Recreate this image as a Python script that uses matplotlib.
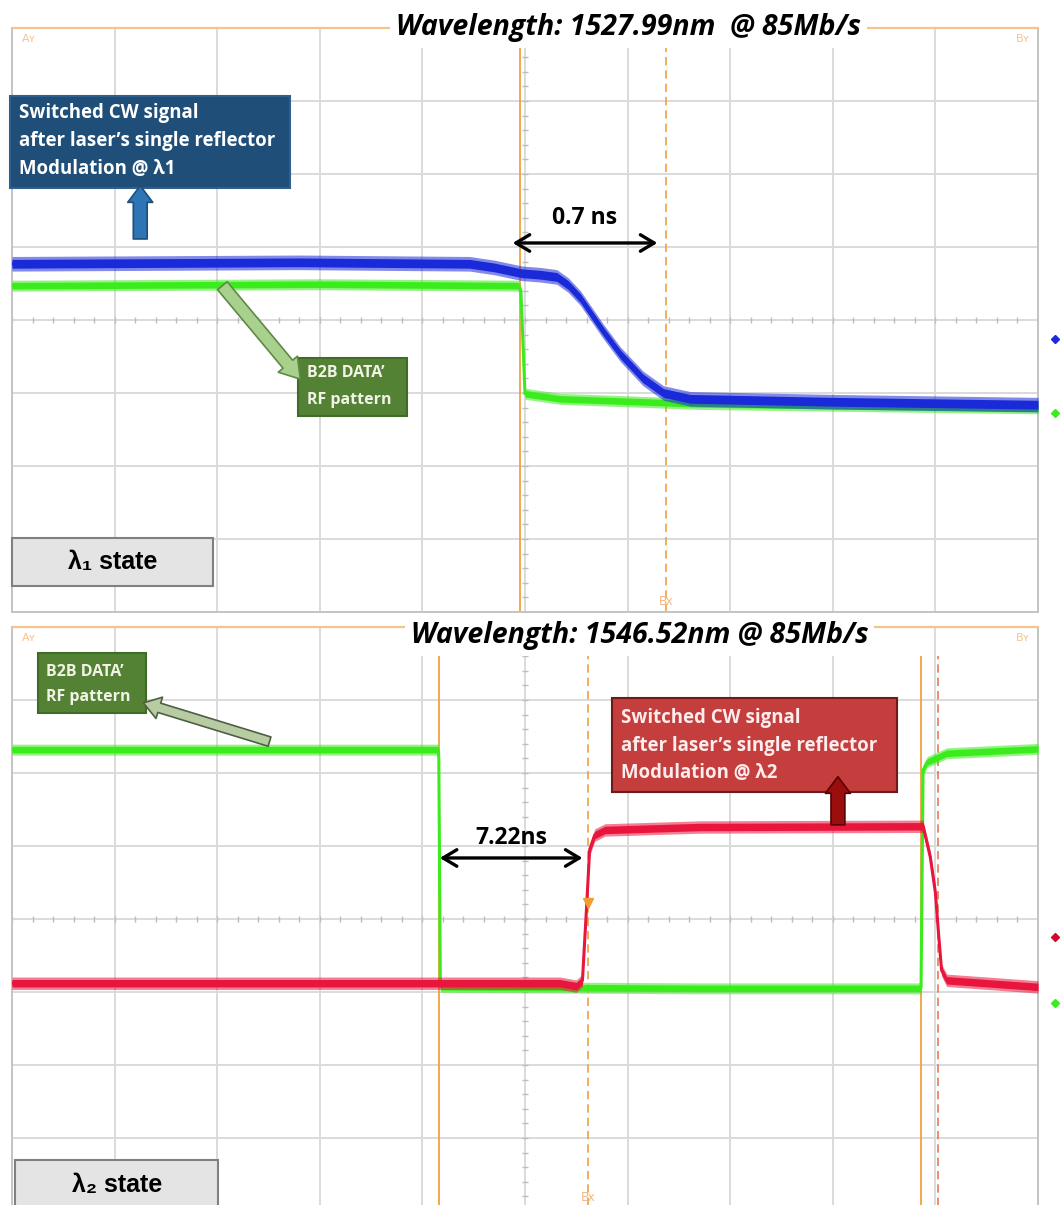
import numpy as np
import matplotlib.pyplot as plt
from matplotlib.patches import Rectangle

plt.rcParams['font.family'] = ['Open Sans', 'DejaVu Sans']

# ---- data (time and level in scope divisions) ----
top_title = 'Wavelength: 1527.99nm  @ 85Mb/s'
bot_title = 'Wavelength: 1546.52nm @ 85Mb/s'

blue_t = [-5.0, -2.2, -0.54, -0.3, -0.03, 0.15, 0.31, 0.42, 0.54, 0.76, 0.93, 1.15, 1.35, 1.61, 3.0, 5.0]
blue_v = [0.77, 0.79, 0.77, 0.72, 0.64, 0.62, 0.59, 0.48, 0.30, -0.15, -0.47, -0.80, -1.00, -1.08, -1.12, -1.16]

green1_t = [-5.0, -2.0, -0.07, -0.04, 0.0, 0.34, 1.7, 5.0]
green1_v = [0.47, 0.49, 0.47, 0.40, -1.01, -1.08, -1.15, -1.21]

green2_t = [-5.0, -0.845, -0.84, -0.825, 1.7, 3.86, 3.88, 3.92, 4.11, 5.0]
green2_v = [2.32, 2.32, 2.20, -0.93, -0.95, -0.95, 2.04, 2.15, 2.27, 2.33]

red_t = [-5.0, 0.34, 0.50, 0.56, 0.60, 0.63, 0.68, 0.78, 1.7, 3.88, 3.95, 4.00, 4.03, 4.06, 4.11, 5.0]
red_v = [-0.88, -0.88, -0.92, -0.84, 0.16, 0.95, 1.15, 1.22, 1.26, 1.27, 0.85, 0.36, -0.19, -0.70, -0.84, -0.93]

top_cursor_solid = [-0.05]
top_cursor_dashed = [1.37]
bot_cursor_solid = [-0.835, 3.86]
bot_cursor_dashed = [0.61, 4.03]

top_delay = (-0.12, 1.29, '0.7 ns')
bot_delay = (-0.83, 0.56, '7.22ns')

# channel offset markers on the right edge
top_markers = [-0.26, -1.27]
bot_markers = [-0.25, -1.15]

cw_lines_1 = ['Switched CW signal', 'after laser\u2019s single reflector', 'Modulation @ \u03bb1']
cw_lines_2 = ['Switched CW signal', 'after laser\u2019s single reflector', 'Modulation @ \u03bb2']
rf_lines = ['B2B DATA\u2019', 'RF pattern']

BOX_FONT = ['Open Sans', 'DejaVu Sans']
SMALL_FONT = ['Liberation Sans', 'DejaVu Sans']

W, H = 1060, 1205
fig = plt.figure(figsize=(W / 100, H / 100), dpi=100)


def px_axes(left, top, right, bottom):
    return fig.add_axes([left / W, 1 - bottom / H, (right - left) / W, (bottom - top) / H])


def scope(ax):
    ax.set_xlim(-5, 5)
    ax.set_ylim(-4, 4)
    ax.set_xticks(np.arange(-5, 6))
    ax.set_yticks(np.arange(-4, 5))
    ax.grid(True, color='#DADADA', lw=1.4, zorder=0)
    ax.set_axisbelow(True)
    ax.tick_params(length=0, labelbottom=False, labelleft=False)
    for s in ['left', 'right', 'bottom']:
        ax.spines[s].set_color('#C4C4C4')
        ax.spines[s].set_linewidth(1.4)
    ax.spines['top'].set_color('#F5C38E')
    ax.spines['top'].set_linewidth(1.6)
    # small ticks along the centre axes
    mt = np.arange(-5, 5.01, 0.2)
    ax.plot(mt, np.zeros_like(mt), ls='none', marker='|', ms=5, color='#BDBDBD', zorder=1)
    mv = np.arange(-4, 4.01, 0.2)
    ax.plot(np.zeros_like(mv), mv, ls='none', marker='_', ms=5, color='#BDBDBD', zorder=1)
    ax.text(-4.9, 3.85, 'A\u028f', color='#F3C48F', fontsize=8, va='center', zorder=6,
            family=['DejaVu Sans'])
    ax.text(4.92, 3.85, 'B\u028f', color='#F3C48F', fontsize=8, va='center', ha='right', zorder=6,
            family=['DejaVu Sans'])


def trace(ax, t, v, color, half, z):
    t = np.array(t)
    v = np.array(v)
    ax.fill_between(t, v - half, v + half, color=color, alpha=0.55, lw=0, zorder=z)
    ax.fill_between(t, v - half * 0.6, v + half * 0.6, color=color, lw=0, zorder=z)
    ax.plot(t, v, color=color, lw=2.2, zorder=z)


def cursors(ax, solid, dashed, ytop, bx):
    for x in solid:
        ax.vlines(x, -4, ytop, color='#F0A040', lw=1.3, zorder=2)
    for i, x in enumerate(dashed):
        c = '#F0A040' if i == 0 else '#E57A55'
        ax.vlines(x, -4, ytop, color=c, lw=1.2, linestyles=(0, (5, 3)), zorder=2)
    ax.text(dashed[0], bx, 'Bx', color='#F3B27A', fontsize=9, ha='center', va='center', zorder=6)


def box(ax, x0, y0, x1, y1, fc, ec, lines, tx, ty, dy, fs, tc):
    ax.add_patch(Rectangle((x0, y1), x1 - x0, y0 - y1, fc=fc, ec=ec, lw=1.5, zorder=8, clip_on=False))
    for i, s in enumerate(lines):
        ax.text(tx, ty - i * dy, s, color=tc, fontsize=fs, fontweight='bold', va='center', zorder=9,
                family=BOX_FONT)


def block_arrow(ax, tail, tip, fc, ec, tw, hw, hl):
    ax.annotate('', xy=tip, xytext=tail, zorder=9,
                arrowprops=dict(arrowstyle=f'simple,tail_width={tw},head_width={hw},head_length={hl}',
                                fc=fc, ec=ec, lw=1.2, mutation_scale=20, shrinkA=0, shrinkB=0))


def delay(ax, d, y, ty):
    x0, x1, label = d
    ax.annotate('', xy=(x1, y), xytext=(x0, y), zorder=9,
                arrowprops=dict(arrowstyle='<->,head_length=0.55,head_width=0.33', color='black',
                                lw=2.4, mutation_scale=18, shrinkA=0, shrinkB=0))
    ax.text((x0 + x1) / 2, ty, label, fontsize=16.5, fontweight='bold', ha='center', va='center', zorder=9,
            family=BOX_FONT)


def state(ax, x0, y0, x1, y1, label, ty):
    ax.add_patch(Rectangle((x0, y1), x1 - x0, y0 - y1, fc='#E4E4E4', ec='#808080', lw=1.5,
                           zorder=8, clip_on=False))
    ax.text((x0 + x1) / 2, ty, label, fontsize=18, fontweight='bold', ha='center', va='center',
            zorder=9, family=SMALL_FONT)


def markers(ax, levels, colors):
    for lv, c in zip(levels, colors):
        ax.plot([5.17], [lv], marker='D', ms=4, color=c, clip_on=False)


# ---- top panel: lambda 1 ----
ax1 = px_axes(12, 28, 1038, 612)
scope(ax1)
cursors(ax1, top_cursor_solid, top_cursor_dashed, 3.75, -3.85)
trace(ax1, green1_t, green1_v, '#3CEB1E', 0.075, 3)
trace(ax1, blue_t, blue_v, '#1A2AD8', 0.1, 4)
markers(ax1, top_markers, ['#1A2AD8', '#3CEB1E'])
ax1.text(1.01, 4.0, top_title, fontsize=20.5, fontweight='bold', style='italic', ha='center', va='center',
         zorder=10, bbox=dict(fc='white', ec='none', pad=4))

box(ax1, -5.02, 3.07, -2.29, 1.81, '#1F4E79', '#2F5F8C', cw_lines_1, -4.93, 2.84, 0.385, 13.4, 'white')
block_arrow(ax1, (-3.75, 1.11), (-3.75, 1.84), '#2E75B6', '#1F4E79', 0.5, 0.9, 0.6)
box(ax1, -2.21, -0.52, -1.15, -1.32, '#548235', '#426B28', rf_lines, -2.12, -0.73, 0.36, 11.5, '#F2F2E6')
block_arrow(ax1, (-2.95, 0.47), (-2.19, -0.81), '#A9D18E', '#5E8A45', 0.45, 0.9, 0.7)
delay(ax1, top_delay, 1.055, 1.40)
state(ax1, -5.0, -2.99, -3.04, -3.64, '\u03bb\u2081 state', -3.32)

# ---- bottom panel: lambda 2 ----
ax2 = px_axes(12, 627, 1038, 1211)
scope(ax2)
cursors(ax2, bot_cursor_solid, bot_cursor_dashed, 3.6, -3.82)
trace(ax2, green2_t, green2_v, '#3CEB1E', 0.075, 3)
trace(ax2, red_t, red_v, '#E8163C', 0.085, 4)
markers(ax2, bot_markers, ['#C8102E', '#3CEB1E'])
ax2.plot([0.61], [0.22], marker='v', ms=7, color='#F39C34', zorder=6)
ax2.text(1.12, 3.88, bot_title, fontsize=20.5, fontweight='bold', style='italic', ha='center', va='center',
         zorder=10, bbox=dict(fc='white', ec='none', pad=4))

box(ax2, -4.75, 3.64, -3.69, 2.82, '#548235', '#426B28', rf_lines, -4.67, 3.38, 0.34, 11.5, '#F2F2E6')
block_arrow(ax2, (-2.49, 2.43), (-3.72, 2.96), '#B8CCA4', '#4F5F45', 0.35, 0.8, 0.6)
box(ax2, 0.85, 3.03, 3.63, 1.74, '#C43E3E', '#6E1A1A', cw_lines_2, 0.94, 2.75, 0.375, 13.4, '#FFECEC')
block_arrow(ax2, (3.05, 1.29), (3.05, 1.95), '#9B0E0E', '#5A0000', 0.5, 0.9, 0.6)
delay(ax2, bot_delay, 0.836, 1.11)
state(ax2, -4.97, -3.30, -2.99, -4.0, '\u03bb\u2082 state', -3.64)

fig.savefig('out.png', dpi=100)
